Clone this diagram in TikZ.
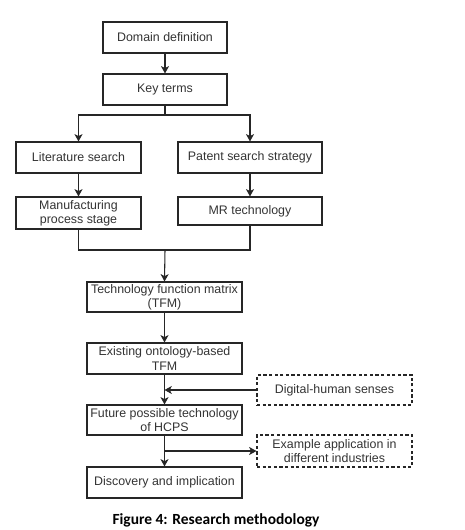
\documentclass[tikz,border=0pt]{standalone}
\usepackage{fontspec}
\setmainfont{Liberation Sans}
\newfontfamily\capfont{Carlito}
\usepackage{xcolor}
\usetikzlibrary{positioning,arrows.meta}

\begin{document}
\begin{tikzpicture}[x=0.75pt,y=-0.75pt,
      bx/.style={rectangle,draw=black!85,line width=0.8pt,text=black!80,font=\fontsize{9.3}{10.6}\selectfont,
        align=center,inner sep=1pt},
      dbx/.style={bx,dashed,dash pattern=on 2.4pt off 1.8pt},
      arr/.style={draw=black!85,line width=0.8pt,-{Stealth[length=5.5pt,width=6pt,inset=1.5pt]}},
      ln/.style={draw=black!85,line width=0.8pt}]
    \useasboundingbox (0,0) rectangle (464,530);
    % main column
    \node[bx,minimum width=93pt,minimum height=23.25pt] (dom) at (165,37.5) {Domain definition};
    \node[bx,minimum width=93pt,minimum height=23.25pt] (key) at (165,89.5) {Key terms};
    % two search branches
    \node[bx,minimum width=93.75pt,minimum height=23.25pt] (lit) at (78.5,157.5) {Literature search};
    \node[bx,minimum width=108pt,minimum height=23.25pt] (pat) at (250,157.5) {Patent search strategy};
    \node[bx,minimum width=93.75pt,minimum height=24pt] (mfg) at (78.5,213) {Manufacturing\\process stage};
    \node[bx,minimum width=108pt,minimum height=21pt] (mr) at (250,211) {MR technology};
    % lower column
    \node[bx,minimum width=116.25pt,minimum height=22.5pt] (tfm) at (164.5,297) {Technology function matrix\\(TFM)};
    \node[bx,minimum width=116.25pt,minimum height=23.25pt] (onto) at (164.5,358.5) {Existing ontology-based\\TFM};
    \node[bx,minimum width=116.25pt,minimum height=22.5pt] (hcps) at (164.5,420) {Future possible technology\\of HCPS};
    \node[bx,minimum width=116.25pt,minimum height=23.25pt] (disc) at (164.5,482.5) {Discovery and implication};
    % dashed side boxes
    \node[dbx,minimum width=116.25pt,minimum height=22.5pt] (senses) at (334.5,390) {Digital-human senses};
    \node[dbx,minimum width=116.25pt,minimum height=24pt] (app) at (334.5,451) {Example application in\\different industries};
    \coordinate (split) at (165,115);
    \coordinate (merge) at (165,250);

    \draw[arr] (dom) -- (key);
    \draw[ln] (key.south) -- (split);
    \draw[arr] (split) -| (lit.north);
    \draw[arr] (split) -| (pat.north);
    \draw[arr] (lit) -- (mfg);
    \draw[arr] (pat) -- (mr);
    \draw[ln] (mfg.south) |- (merge);
    \draw[ln] (mr.south) |- (merge);
    \draw[arr] (merge) -- (tfm.north);
    \draw[arr] (tfm) -- (onto);
    \draw[arr] (onto) -- (hcps);
    \draw[arr] (senses.west) -- (onto.south |- senses.west);
    \draw[arr] (hcps) -- (disc);
    \draw[arr] (hcps.south |- app.west) -- (app.west);

    \node[font=\capfont\bfseries\fontsize{11.6}{13}\selectfont] (cap) at (216,520) {Figure 4: Research methodology};
  \end{tikzpicture}
\end{document}
